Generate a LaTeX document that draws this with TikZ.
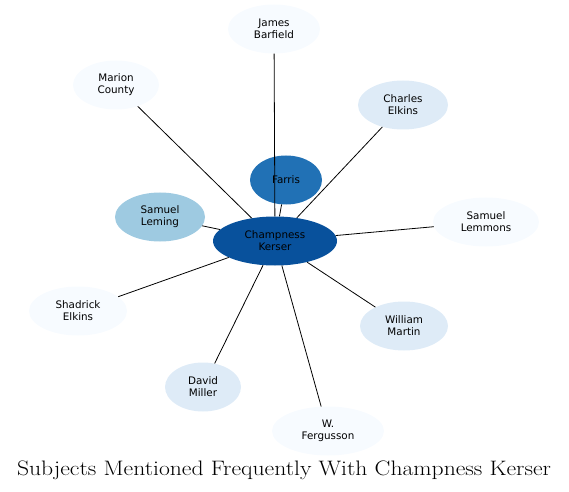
\documentclass[tikz,border=0pt]{standalone}
\usepackage{fontspec}
\usepackage{graphicx}
\usetikzlibrary{shapes.geometric}
\newfontfamily\labelfont{DejaVu Sans}
\definecolor{centreblue}{HTML}{08519C}
\definecolor{strongblue}{HTML}{2171B5}
\definecolor{softblue}{HTML}{9ECAE1}
\definecolor{paleblue}{HTML}{DEEBF7}
\definecolor{faintblue}{HTML}{F7FBFF}
\begin{document}
\begin{tikzpicture}[x=1bp,y=-1bp,
    subject/.style={ellipse,inner sep=0pt,minimum height=49bp,align=center,
        font=\labelfont\fontsize{10.4}{12}\selectfont},
    link/.style={line width=0.8pt}]
    \useasboundingbox (0,0) rectangle (569,492);

    % Centre and nearest subjects
    \node[subject,fill=centreblue,minimum width=124bp] (kerser) at (275,241) {Champness\\Kerser};
    \node[subject,fill=strongblue,minimum width=72bp] (farris) at (286,180) {Farris};
    \node[subject,fill=softblue,minimum width=90bp] (leming) at (160,217) {Samuel\\Leming};

    % Outer subjects
    \node[subject,fill=faintblue,minimum width=92bp] (barfield) at (274,29) {James\\Barfield};
    \node[subject,fill=faintblue,minimum width=86bp] (marion) at (116,85) {Marion\\County};
    \node[subject,fill=paleblue,minimum width=90bp] (celkins) at (403,105) {Charles\\Elkins};
    \node[subject,fill=faintblue,minimum width=106bp] (lemmons) at (486,222) {Samuel\\Lemmons};
    \node[subject,fill=paleblue,minimum width=88bp] (martin) at (404,326) {William\\Martin};
    \node[subject,fill=faintblue,minimum width=112bp] (fergusson) at (328,431) {W.\\Fergusson};
    \node[subject,fill=paleblue,minimum width=76bp] (miller) at (203,387) {David\\Miller};
    \node[subject,fill=faintblue,minimum width=98bp] (selkins) at (78,311) {Shadrick\\Elkins};

    % Links
    \foreach \other in {farris,leming,barfield,marion,celkins,lemmons,martin,fergusson,miller,selkins}
        \draw[link] (kerser) -- (\other);

    % Title
    \node (title) at (284,470) {\scalebox{1.13}[1]{\fontsize{21}{24}\selectfont Subjects Mentioned Frequently With Champness Kerser}};
\end{tikzpicture}
\end{document}
